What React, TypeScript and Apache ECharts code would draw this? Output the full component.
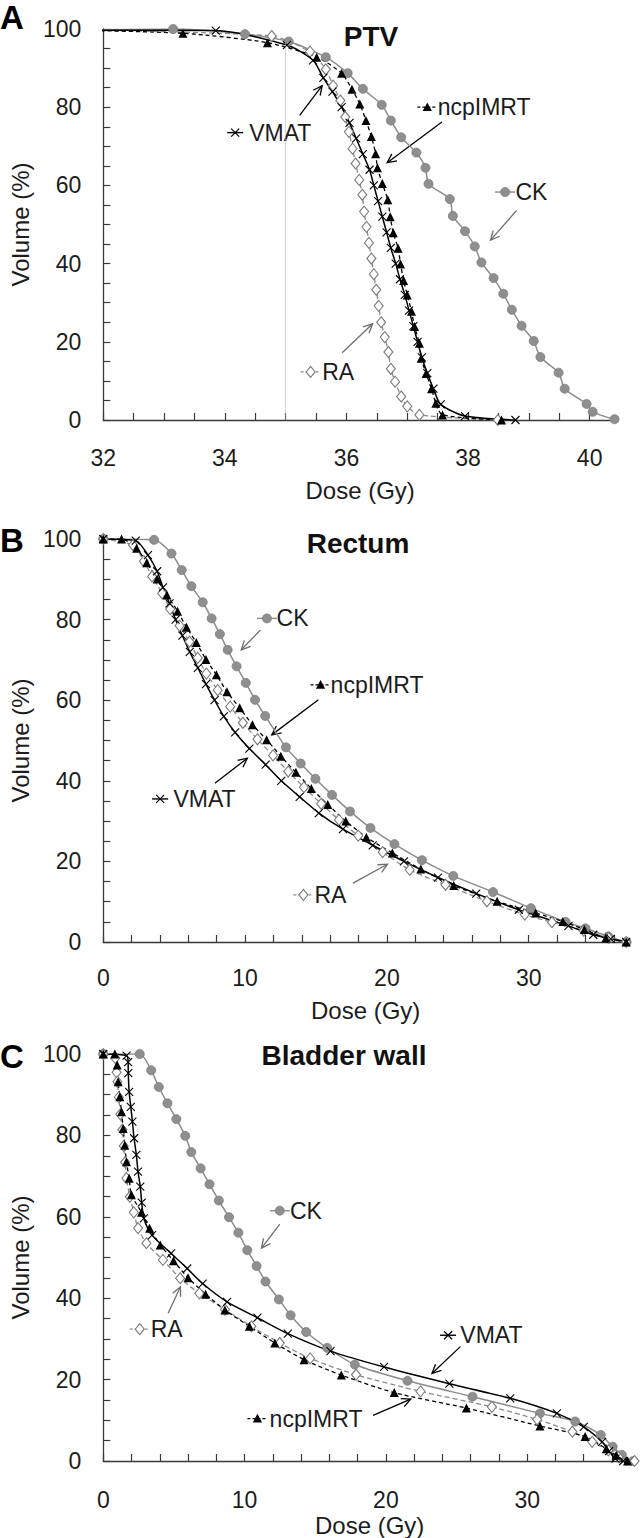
import React, { useEffect, useRef } from 'react';
import * as echarts from 'echarts';

const FONT = '"Liberation Sans", Arial, Helvetica, sans-serif';

// ---------- Panel A: PTV ----------
const ptvCK: number[][] = [[31.5,99.7],[33.15,100],[34.33,98.7],[35.05,96.8],[35.66,92.8],[36.02,88.7],[36.27,84.7],[36.58,80.6],[36.73,76.6],[36.9,72.3],[37.15,68.4],[37.3,64.5],[37.35,60.4],[37.7,56.5],[37.75,52.2],[37.95,48.3],[38.11,44.4],[38.22,40.3],[38.42,36.3],[38.58,32.3],[38.72,28.2],[38.88,24.1],[39.08,20.2],[39.19,16.1],[39.49,12.1],[39.59,8.0],[39.95,4.1],[40.05,2.1],[40.41,0.2]];
const ptvVMAT: number[][] = [[31.5,99.7],[33.85,99.6],[35.02,95.9],[35.45,92.0],[35.62,87.5],[35.77,84],[35.92,80],[36.05,76],[36.16,72],[36.27,68],[36.38,64],[36.45,60],[36.52,56],[36.59,52],[36.66,48],[36.73,44],[36.81,40],[36.88,36],[36.96,32],[37.03,28],[37.1,24],[37.17,20],[37.24,16],[37.33,12],[37.43,8],[37.55,4],[37.95,1.0],[38.78,0]];
const ptvNCP: number[][] = [[31.5,99.7],[33.31,98.9],[34.7,96.5],[35.51,92.8],[35.92,88.7],[36.09,84.6],[36.22,80.8],[36.32,76.6],[36.41,72.5],[36.48,68.1],[36.51,64.5],[36.59,60.5],[36.68,56.3],[36.72,52.0],[36.77,47.9],[36.85,43.9],[36.89,39.9],[36.94,35.7],[37.0,32.0],[37.07,27.8],[37.12,23.9],[37.2,19.6],[37.23,15.8],[37.31,11.9],[37.4,8.0],[37.47,4.3],[37.58,1.3],[38.55,0]];
const ptvRA: number[][] = [[31.5,99.7],[34.77,98.2],[35.4,94.2],[35.66,89.7],[35.78,85.5],[35.9,81.7],[35.98,77.5],[36.04,73.7],[36.1,69.4],[36.15,65.6],[36.21,61.4],[36.26,57.6],[36.29,53.3],[36.33,49.4],[36.37,45.3],[36.41,41.3],[36.45,37.3],[36.49,33.3],[36.53,29.2],[36.57,25.0],[36.63,21.2],[36.69,17.4],[36.73,13.1],[36.8,9.8],[36.9,6.0],[37.0,3.5],[37.2,1.3],[38.49,0]];

// ---------- Panel B: Rectum ----------
const recCK: number[][] = [[0,100],[3.58,99.8],[4.81,96.4],[5.53,92.3],[6.21,88.3],[7.01,84.3],[7.64,80.3],[8.22,76.4],[8.77,72.5],[9.4,68.4],[10.05,64.3],[10.7,60.1],[11.42,56.1],[12.88,48.3],[13.92,44.3],[14.96,40.5],[16.13,36.5],[17.4,32.4],[18.84,28.3],[20.53,24.3],[22.47,20.3],[24.68,16.4],[27.48,12.4],[30.15,8.4],[32.6,5.0],[34.0,3.4],[35.6,1.4],[36.9,0]];
const recVMAT: number[][] = [[0,100],[2.29,99.6],[3.15,96],[3.8,92],[4.21,88],[4.67,84],[5.1,80],[5.58,76],[6.1,72],[6.67,68],[7.24,64],[7.85,60],[8.5,56],[9.3,52],[10.3,48],[11.45,44],[12.55,40],[13.85,36],[15.2,32],[16.9,28],[19.0,24],[21.2,20],[23.6,16],[26.3,12],[29.3,8],[32.8,4],[34.55,1.8],[35.78,0.8],[36.87,0]];
const recNCP: number[][] = [[0,100],[1.29,100],[2.35,97.7],[3.06,94.1],[3.8,90.1],[4.49,86.1],[5.24,82.1],[5.87,78.1],[6.56,74.3],[7.24,70.1],[7.98,66.3],[8.72,62.1],[9.62,58.1],[10.52,53.9],[11.52,50.2],[12.52,46.1],[13.58,42.1],[14.67,38.1],[15.83,34.1],[17.1,30.0],[18.55,26.0],[20.38,22.1],[22.39,18.1],[24.71,14.0],[27.77,10.1],[30.49,7.2],[32.4,5.1],[33.92,3.1],[35.44,1.0],[36.87,0]];
const recRA: number[][] = [[0,100],[2.09,98.5],[2.86,94.5],[3.44,90.7],[4.15,86.5],[4.72,82.6],[5.38,78.5],[6.08,74.5],[6.66,70.5],[7.27,66.6],[8.07,62.5],[8.95,58.4],[9.84,54.4],[10.87,50.3],[11.97,46.3],[13.04,42.3],[14.15,38.4],[15.37,34.3],[16.62,30.3],[17.98,26.4],[19.7,22.3],[21.61,17.9],[24.13,14.2],[27.05,10.1],[29.72,6.8],[31.64,4.9],[33.87,2.8],[35.64,1.0],[36.87,0]];

// ---------- Panel C: Bladder wall ----------
const blaCK: number[][] = [[0,100],[2.58,100],[3.39,96],[3.93,91.9],[4.54,87.9],[5.17,84],[5.8,79.9],[6.23,75.9],[6.89,71.9],[7.52,68],[8.18,64],[8.9,59.9],[9.56,56.1],[10.19,51.8],[10.85,47.9],[11.48,44.1],[12.43,39.7],[13.26,35.8],[14.36,31.7],[15.85,27.8],[17.8,23.7],[21.53,19.7],[26.13,15.8],[30.9,11.7],[33.4,9.7],[35.2,6.4],[36.05,3.5],[36.7,1.5],[37.5,0]];
const blaVMAT: number[][] = [[0,100],[1.65,99.6],[1.76,98],[1.77,95.3],[1.83,90.7],[1.95,87],[2.06,83.4],[2.18,79.3],[2.34,75.2],[2.46,71.1],[2.62,67.4],[2.72,63.5],[2.87,59.6],[3.45,55.5],[4.8,51],[5.94,47.3],[7.03,43.6],[8.76,39.1],[10.91,35.2],[13.06,31.3],[16.08,27],[19.87,23.1],[24.49,19],[28.8,15.4],[32.1,11.7],[34.0,8.4],[35.3,4.7],[35.8,2.4],[36.25,0.6],[36.8,0]];
const blaNCP: number[][] = [[0,100],[0.82,100],[0.98,97.3],[1.05,93.2],[1.17,89.5],[1.29,85.8],[1.41,81.7],[1.52,77.6],[1.64,73.5],[1.83,69.5],[1.99,65.4],[2.71,61.1],[3.28,57.2],[4.03,53.1],[4.97,49.2],[6.0,45],[7.24,41],[8.61,37.1],[10.34,33.1],[12.14,29],[14.21,24.9],[16.85,21.1],[20.59,16.8],[25.7,13],[30.9,8.6],[34.1,6.0],[35.6,3],[36.3,1.4],[37.1,0]];
const blaRA: number[][] = [[0,100],[0.85,99],[0.94,95.5],[1.0,93.2],[1.1,89.4],[1.2,85.2],[1.35,81.4],[1.45,77.4],[1.55,73.4],[1.64,69.5],[1.88,64.9],[2.16,61.1],[2.46,57.2],[3.05,53.5],[4.22,49.4],[5.44,44.9],[6.8,41.2],[8.61,37.2],[10.48,33.1],[12.49,29],[14.64,25.2],[17.89,21.2],[22.45,17.1],[27.5,13.3],[30.7,10.2],[33.2,7.2],[34.6,4.7],[35.74,2.6],[36.45,1.0],[37.6,0]];

// ---------- Axis ticks / labels ----------
const ptvDoseLabels = [32, 34, 36, 38, 40];
const ptvDoseTicks = [32, 32.5, 33, 33.5, 34, 34.5, 35, 35.5, 36, 36.5, 37, 37.5, 38, 38.5, 39, 39.5, 40];
const oarDoseLabels = [0, 10, 20, 30];
const oarDoseTicks = [0, 2, 4, 6, 8, 10, 12, 14, 16, 18, 20, 22, 24, 26, 28, 30, 32, 34, 36];
const volumeLabels = [0, 20, 40, 60, 80, 100];
const volumeTicks = [0, 5, 10, 15, 20, 25, 30, 35, 40, 45, 50, 55, 60, 65, 70, 75, 80, 85, 90, 95, 100];

const panelTitles = ['PTV', 'Rectum', 'Bladder wall'];
const panelLetters = ['A', 'B', 'C'];
const doseRanges = [[32, 40.45], [0, 37], [0, 37.7]];
const ptvReferenceDose = 35;

// annotation callouts (data coordinates)
type Ann = { kind: string; label: string; glyph: number[]; textX: number; from: number[]; to: number[] };
const annotations: Ann[][] = [
  [
    { kind: 'x', label: 'VMAT', glyph: [34.17, 73.5], textX: 34.4, from: [35.23, 77.9], to: [35.6, 85.5] },
    { kind: 'tri', label: 'ncpIMRT', glyph: [37.33, 80.0], textX: 37.5, from: [37.57, 76.2], to: [36.67, 65.8] },
    { kind: 'circle', label: 'CK', glyph: [38.61, 58.3], textX: 38.78, from: [38.8, 53.6], to: [38.37, 46.0] },
    { kind: 'diamond', label: 'RA', glyph: [35.41, 12.3], textX: 35.6, from: [35.93, 17.2], to: [36.43, 24.6] },
  ],
  [
    { kind: 'circle', label: 'CK', glyph: [11.54, 80.3], textX: 12.22, from: [11.08, 77.4], to: [9.73, 72.5] },
    { kind: 'tri', label: 'ncpIMRT', glyph: [15.32, 63.8], textX: 16.03, from: [15.17, 60.1], to: [11.88, 51.4] },
    { kind: 'x', label: 'VMAT', glyph: [4.01, 35.5], textX: 4.95, from: [7.87, 39.4], to: [10.16, 45.6] },
    { kind: 'diamond', label: 'RA', glyph: [14.11, 11.7], textX: 14.89, from: [17.61, 14.6], to: [20.04, 19.3] },
  ],
  [
    { kind: 'circle', label: 'CK', glyph: [12.49, 61.5], textX: 13.21, from: [12.49, 58.2], to: [11.2, 52.3] },
    { kind: 'diamond', label: 'RA', glyph: [2.58, 32.4], textX: 3.36, from: [4.59, 36.3], to: [5.46, 42.8] },
    { kind: 'x', label: 'VMAT', glyph: [24.4, 30.9], textX: 25.27, from: [25.27, 28.1], to: [23.26, 21.5] },
    { kind: 'tri', label: 'ncpIMRT', glyph: [10.91, 10.4], textX: 11.77, from: [19.09, 11.2], to: [21.76, 15.2] },
  ],
];

const panelData = [
  { CK: ptvCK, VMAT: ptvVMAT, ncpIMRT: ptvNCP, RA: ptvRA },
  { CK: recCK, VMAT: recVMAT, ncpIMRT: recNCP, RA: recRA },
  { CK: blaCK, VMAT: blaVMAT, ncpIMRT: blaNCP, RA: blaRA },
];

// ---------- layout & style ----------
const grids = [
  { left: 100, top: 29, width: 517, height: 391, labelMargin: 26, nameGap: 58, titleX: 371, titleY: 36, letterY: 17 },
  { left: 100, top: 539, width: 528, height: 403, labelMargin: 24, nameGap: 56, titleX: 358, titleY: 543, letterY: 540 },
  { left: 100, top: 1054, width: 536, height: 407, labelMargin: 27, nameGap: 52, titleX: 344, titleY: 1055, letterY: 1056 },
];

const GRAY = '#8c8c8c';
const RA_GRAY = '#8a8a8a';
const TEXT = '#1c1c1c';
const X_SYMBOL = 'path://M0,0L10,10M10,0L0,10';

function seriesFor(i: number) {
  const d = panelData[i];
  const common = { type: 'line', xAxisIndex: i, yAxisIndex: i, smooth: 0.25, clip: true, showSymbol: true, z: 2 };
  const ck: any = {
    ...common, name: 'CK', data: d.CK, symbol: 'circle', symbolSize: 9,
    lineStyle: { color: GRAY, width: 1.5 },
    itemStyle: { color: '#8f8f8f', borderColor: '#7c7c7c', borderWidth: 0.8 },
  };
  if (i === 0) {
    ck.markLine = {
      silent: true, symbol: 'none', label: { show: false },
      lineStyle: { color: '#a8a8a8', type: 'dotted', width: 1 },
      data: [[{ coord: [ptvReferenceDose, 96.5] }, { coord: [ptvReferenceDose, 0] }]],
    };
  }
  return [
    ck,
    {
      ...common, name: 'RA', data: d.RA, symbol: 'diamond', symbolSize: [9, 11],
      lineStyle: { color: RA_GRAY, width: 1.3, type: [5, 3] },
      itemStyle: { color: '#ffffff', borderColor: '#7a7a7a', borderWidth: 1.1 },
    },
    {
      ...common, name: 'VMAT', data: d.VMAT, symbol: X_SYMBOL, symbolSize: 8,
      lineStyle: { color: '#000', width: 1.5 },
      itemStyle: { color: 'rgba(0,0,0,0)', borderColor: '#000', borderWidth: 1.1 },
    },
    {
      ...common, name: 'ncpIMRT', data: d.ncpIMRT, symbol: 'triangle', symbolSize: 9,
      lineStyle: { color: '#000', width: 1.3, type: [4, 3] },
      itemStyle: { color: '#000' },
    },
  ];
}

function buildOption(): any {
  return {
    animation: false,
    backgroundColor: '#ffffff',
    textStyle: { fontFamily: FONT },
    grid: grids.map((g) => ({ left: g.left, top: g.top, width: g.width, height: g.height, containLabel: false })),
    xAxis: grids.map((g, i) => ({
      type: 'value', gridIndex: i, min: doseRanges[i][0], max: doseRanges[i][1],
      name: 'Dose (Gy)', nameLocation: 'middle', nameGap: g.nameGap,
      nameTextStyle: { fontSize: 24, color: TEXT, fontFamily: FONT },
      axisLine: { show: true, onZero: false, lineStyle: { color: '#3a3a3a', width: 1.3 } },
      axisTick: { show: true, inside: true, length: 7, lineStyle: { color: '#3a3a3a', width: 1.2 },
        customValues: i === 0 ? ptvDoseTicks : oarDoseTicks },
      axisLabel: { fontSize: 23, color: TEXT, margin: g.labelMargin, fontFamily: FONT,
        customValues: i === 0 ? ptvDoseLabels : oarDoseLabels },
      splitLine: { show: false },
    })),
    yAxis: grids.map((g, i) => ({
      type: 'value', gridIndex: i, min: 0, max: 100,
      name: 'Volume (%)', nameLocation: 'middle', nameGap: 70,
      nameTextStyle: { fontSize: 24, color: TEXT, fontFamily: FONT },
      axisLine: { show: true, onZero: false, lineStyle: { color: '#3a3a3a', width: 1.3 } },
      axisTick: { show: true, inside: true, length: 7, lineStyle: { color: '#3a3a3a', width: 1.2 }, customValues: volumeTicks },
      axisLabel: { fontSize: 23, color: TEXT, margin: 22, fontFamily: FONT, customValues: volumeLabels },
      splitLine: { show: false },
    })),
    series: [0, 1, 2].flatMap((i) => seriesFor(i)),
  };
}

function arrowHead(from: number[], to: number[], len: number) {
  const a = Math.atan2(to[1] - from[1], to[0] - from[0]);
  const s = 0.45;
  return [
    [to[0] - len * Math.cos(a - s), to[1] - len * Math.sin(a - s)],
    [to[0], to[1]],
    [to[0] - len * Math.cos(a + s), to[1] - len * Math.sin(a + s)],
  ];
}

function buildGraphics(chart: any) {
  const els: any[] = [];
  grids.forEach((g, i) => {
    els.push({
      type: 'text', x: g.titleX, y: g.titleY, silent: true,
      style: { text: panelTitles[i], font: `bold 28px ${FONT}`, fill: '#111', align: 'center', verticalAlign: 'middle', textAlign: 'center', textVerticalAlign: 'middle' },
    });
    els.push({
      type: 'text', x: 0, y: g.letterY, silent: true,
      style: { text: panelLetters[i], font: `bold 33px ${FONT}`, fill: '#000', align: 'left', verticalAlign: 'middle', textAlign: 'left', textVerticalAlign: 'middle' },
    });
    annotations[i].forEach((a) => {
      const p = chart.convertToPixel({ gridIndex: i }, a.glyph);
      const tx = chart.convertToPixel({ gridIndex: i }, [a.textX, a.glyph[1]])[0];
      const f = chart.convertToPixel({ gridIndex: i }, a.from);
      const t = chart.convertToPixel({ gridIndex: i }, a.to);
      const gx = p[0], gy = p[1];
      const isGray = a.kind === 'circle' || a.kind === 'diamond';
      const arrowColor = isGray ? '#6e6e6e' : '#000';
      if (a.kind === 'circle') {
        els.push({ type: 'line', silent: true, shape: { x1: gx - 10, y1: gy, x2: gx + 10, y2: gy }, style: { stroke: GRAY, lineWidth: 1.4 } });
        els.push({ type: 'circle', silent: true, shape: { cx: gx, cy: gy, r: 4.5 }, style: { fill: '#8f8f8f', stroke: '#7c7c7c', lineWidth: 0.8 } });
      } else if (a.kind === 'tri') {
        els.push({ type: 'line', silent: true, shape: { x1: gx - 10, y1: gy, x2: gx + 10, y2: gy }, style: { stroke: '#000', lineWidth: 1.3, lineDash: [3, 2] } });
        els.push({ type: 'polygon', silent: true, shape: { points: [[gx, gy - 4.8], [gx + 4.6, gy + 3.8], [gx - 4.6, gy + 3.8]] }, style: { fill: '#000' } });
      } else if (a.kind === 'diamond') {
        els.push({ type: 'line', silent: true, shape: { x1: gx - 10, y1: gy, x2: gx + 10, y2: gy }, style: { stroke: RA_GRAY, lineWidth: 1.3, lineDash: [3, 2] } });
        els.push({ type: 'polygon', silent: true, shape: { points: [[gx, gy - 5.5], [gx + 4.5, gy], [gx, gy + 5.5], [gx - 4.5, gy]] }, style: { fill: '#fff', stroke: '#7a7a7a', lineWidth: 1.1 } });
      } else {
        els.push({ type: 'line', silent: true, shape: { x1: gx - 8, y1: gy, x2: gx + 8, y2: gy }, style: { stroke: '#000', lineWidth: 1.4 } });
        els.push({ type: 'line', silent: true, shape: { x1: gx - 4, y1: gy - 4, x2: gx + 4, y2: gy + 4 }, style: { stroke: '#000', lineWidth: 1.2 } });
        els.push({ type: 'line', silent: true, shape: { x1: gx - 4, y1: gy + 4, x2: gx + 4, y2: gy - 4 }, style: { stroke: '#000', lineWidth: 1.2 } });
      }
      els.push({
        type: 'text', x: tx, y: gy, silent: true,
        style: { text: a.label, font: `23px ${FONT}`, fill: TEXT, align: 'left', verticalAlign: 'middle', textAlign: 'left', textVerticalAlign: 'middle' },
      });
      els.push({ type: 'line', silent: true, shape: { x1: f[0], y1: f[1], x2: t[0], y2: t[1] }, style: { stroke: arrowColor, lineWidth: 1.3 } });
      els.push({ type: 'polyline', silent: true, shape: { points: arrowHead(f, t, 10) }, style: { stroke: arrowColor, lineWidth: 1.3, fill: 'none' } });
    });
  });
  return els;
}

export default function App() {
  const ref = useRef<HTMLDivElement>(null);
  useEffect(() => {
    if (!ref.current) return;
    const chart = echarts.init(ref.current, null, { renderer: 'svg' });
    chart.setOption(buildOption());
    chart.setOption({ graphic: { elements: buildGraphics(chart) } });
    return () => chart.dispose();
  }, []);
  return (
    <div
      ref={ref}
      style={{ position: 'absolute', left: 0, top: 0, width: 640, height: 1538, background: '#fff' }}
    />
  );
}
